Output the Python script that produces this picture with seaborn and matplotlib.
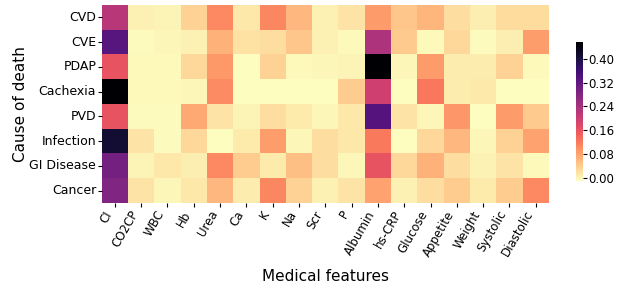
import numpy as np
import pandas as pd
import seaborn as sns
import matplotlib.pyplot as plt

causes = ["CVD", "CVE", "PDAP", "Cachexia", "PVD", "Infection", "GI Disease", "Cancer"]
features = ["CI", "CO2CP", "WBC", "Hb", "Urea", "Ca", "K", "Na", "Scr", "P",
            "Albumin", "hs-CRP", "Glucose", "Appetite", "Weight", "Systolic", "Diastolic"]

cvd       = [0.220, 0.003, 0.000, 0.035, 0.106, 0.013, 0.108, 0.060, 0.003, 0.017, 0.088, 0.046, 0.062, 0.022, 0.005, 0.024, 0.024]
cve       = [0.330, -0.008, -0.002, 0.003, 0.065, 0.018, 0.022, 0.046, 0.003, -0.005, 0.232, 0.042, -0.005, 0.028, -0.008, 0.005, 0.085]
pdap      = [0.162, -0.005, -0.006, 0.028, 0.090, -0.009, 0.035, -0.006, -0.003, 0.000, 0.455, -0.002, 0.088, 0.007, 0.008, 0.035, -0.005]
cachexia  = [0.455, -0.006, -0.006, -0.003, 0.104, -0.010, -0.010, -0.010, -0.009, 0.040, 0.195, -0.009, 0.122, 0.007, 0.010, -0.009, -0.009]
pvd       = [0.162, -0.008, -0.008, 0.075, 0.017, 0.000, 0.022, 0.009, -0.004, 0.013, 0.335, 0.017, -0.002, 0.092, -0.009, 0.088, 0.042]
infection = [0.410, 0.017, -0.008, 0.028, -0.010, 0.009, 0.085, -0.004, 0.022, 0.013, 0.120, -0.009, 0.028, 0.060, -0.002, 0.035, 0.080]
gi        = [0.297, 0.000, 0.013, 0.005, 0.106, 0.040, 0.009, 0.052, 0.022, -0.004, 0.162, 0.028, 0.065, 0.022, 0.002, 0.017, -0.005]
cancer    = [0.283, 0.017, -0.003, 0.013, 0.060, 0.008, 0.108, 0.035, 0.003, 0.017, 0.080, 0.003, 0.022, 0.040, 0.009, 0.040, 0.105]

df = pd.DataFrame([cvd, cve, pdap, cachexia, pvd, infection, gi, cancer],
                  index=causes, columns=features)

fig = plt.figure(figsize=(6.28, 2.89), dpi=100)
ax = fig.add_axes([0.162, 0.298, 0.712, 0.685])
cax = fig.add_axes([0.917, 0.375, 0.011, 0.478])

sns.heatmap(df, cmap="magma_r", ax=ax, cbar_ax=cax,
            cbar_kws={"ticks": [0, 0.08, 0.16, 0.24, 0.32, 0.40], "format": "%.2f"})
cax.tick_params(labelsize=8.5, length=3, pad=1)
for s in cax.spines.values():
    s.set_visible(False)

ax.set_xticklabels(features, rotation=60, ha="right", fontsize=8.5)
ax.set_yticklabels(causes, rotation=0, fontsize=9)
ax.tick_params(length=3, pad=1)
ax.set_xlabel("Medical features", fontsize=11, labelpad=7)
ax.set_ylabel("Cause of death", fontsize=11, labelpad=1)

fig.savefig("out.png", dpi=100)
